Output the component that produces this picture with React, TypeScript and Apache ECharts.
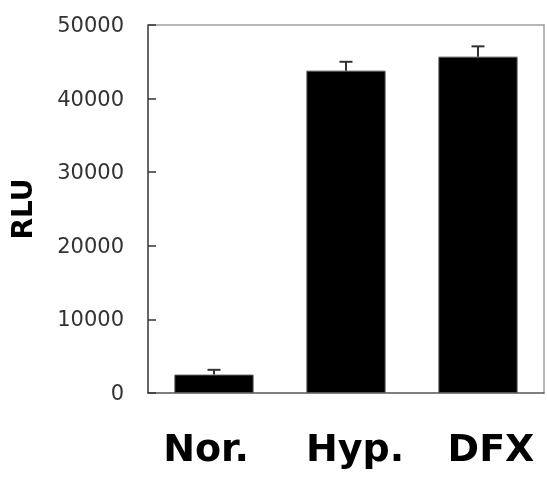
import React, { useEffect, useRef } from "react";
import * as echarts from "echarts";

const categories = ["Nor.", "Hyp.", "DFX"];
const values = [2500, 43800, 45700];
const errors = [650, 1200, 1400];
const yTicks = [0, 10000, 20000, 30000, 40000, 50000];
const labelPads = [[0, 16, 0, 0], [0, 0, 0, 18], [0, 0, 0, 26]];

export default function App() {
  const ref = useRef<HTMLDivElement>(null);
  useEffect(() => {
    const chart = echarts.init(ref.current!, null, { renderer: "svg" });
    chart.setOption({
      animation: false,
      grid: {
        left: 147,
        right: 3,
        top: 25,
        bottom: 84,
      },
      xAxis: [
        {
          type: "category",
          data: categories.map((c, i) => ({
            value: c,
            textStyle: { padding: labelPads[i] },
          })),
          axisLine: { onZero: false, lineStyle: { color: "#555", width: 1.5 } },
          axisTick: { inside: true, length: 8, lineStyle: { color: "#444", width: 1.5 } },
          axisLabel: {
            margin: 36,
            fontSize: 38,
            fontWeight: "bold",
            fontFamily: "DejaVu Sans",
            color: "#000",
          },
        },
        {
          type: "category",
          position: "top",
          data: categories,
          axisLine: { show: true, onZero: false, lineStyle: { color: "#a0a0a0", width: 1.5 } },
          axisTick: { show: false },
          axisLabel: { show: false },
        },
      ],
      yAxis: [
        {
          type: "value",
          min: yTicks[0],
          max: yTicks[yTicks.length - 1],
          interval: 10000,
          name: "RLU",
          nameLocation: "middle",
          nameGap: 112,
          nameTextStyle: {
            fontSize: 28,
            fontWeight: "bold",
            fontFamily: "DejaVu Sans",
            color: "#000",
          },
          splitLine: { show: false },
          axisLine: { show: true, onZero: false, lineStyle: { color: "#333", width: 1.5 } },
          axisTick: { show: true, inside: true, length: 8, lineStyle: { color: "#333", width: 1.5 } },
          axisLabel: {
            margin: 24,
            fontSize: 21,
            fontFamily: "DejaVu Sans",
            color: "#333",
            formatter: (v: number) => String(v),
          },
        },
        {
          type: "value",
          position: "right",
          min: yTicks[0],
          max: yTicks[yTicks.length - 1],
          interval: 10000,
          splitLine: { show: false },
          axisLine: { show: true, onZero: false, lineStyle: { color: "#a0a0a0", width: 1.5 } },
          axisTick: { show: false },
          axisLabel: { show: false },
        },
      ],
      series: [
        {
          type: "bar",
          data: values,
          barWidth: "60%",
          itemStyle: { color: "#000", borderColor: "#555", borderWidth: 1 },
          z: 2,
        },
        {
          type: "custom",
          z: 3,
          data: values.map((v, i) => [i, v, v + errors[i]]),
          renderItem: (params: any, api: any) => {
            const base = api.coord([api.value(0), api.value(1)]);
            const top = api.coord([api.value(0), api.value(2)]);
            const half = 6.5;
            const style = { stroke: "#333", lineWidth: 2 };
            return {
              type: "group",
              children: [
                { type: "line", shape: { x1: base[0], y1: base[1], x2: top[0], y2: top[1] }, style },
                { type: "line", shape: { x1: top[0] - half, y1: top[1], x2: top[0] + half, y2: top[1] }, style },
              ],
            };
          },
        },
      ],
    });
    return () => chart.dispose();
  }, []);
  return (
    <div
      ref={ref}
      style={{ position: "fixed", left: 0, top: 0, width: 547, height: 477 }}
    />
  );
}
